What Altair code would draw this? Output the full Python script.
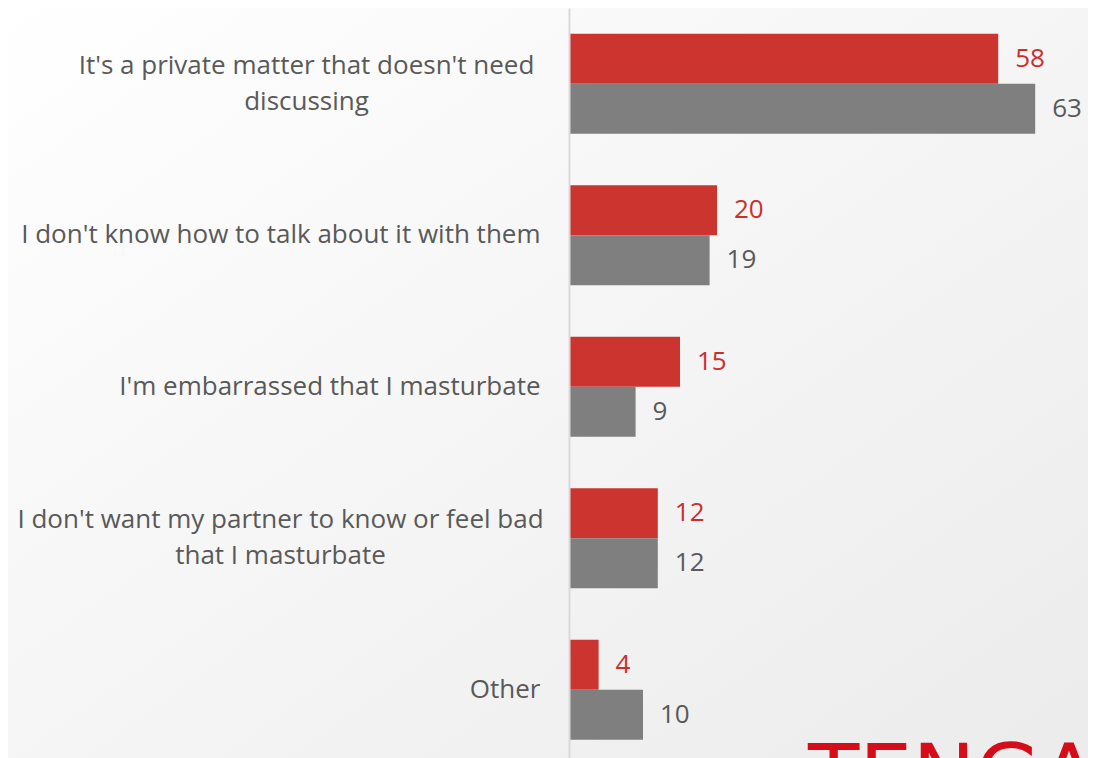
import altair as alt
import pandas as pd

categories = [
    "It's a private matter that doesn't need\ndiscussing",
    "I don't know how to talk about it with them",
    "I'm embarrassed that I masturbate",
    "I don't want my partner to know or feel bad\nthat I masturbate",
    "Other",
]
series_names = ["Series 1", "Series 2"]
red_values = [58, 20, 15, 12, 4]
gray_values = [63, 19, 9, 12, 10]
logo_text = ["TENGA"]

bar_colors = ["#CC3430", "#7F7F7F"]
text_colors = ["#C9302C", "#595959"]

rows = []
for c, r, g in zip(categories, red_values, gray_values):
    rows.append({"category": c, "series": series_names[0], "value": r})
    rows.append({"category": c, "series": series_names[1], "value": g})
df = pd.DataFrame(rows)

W = 511
H = 750
FONT = "Open Sans"

bg = alt.Chart(pd.DataFrame({"a": [0]})).mark_rect(
    color=alt.Gradient(
        gradient="linear",
        x1=0, y1=0, x2=1, y2=1,
        stops=[alt.GradientStop(color="#ffffff", offset=0),
               alt.GradientStop(color="#ebebeb", offset=1)],
    )
).encode(
    x=alt.value(-561), x2=alt.value(W + 20),
    y=alt.value(-8), y2=alt.value(H + 20),
)

logo = alt.Chart(pd.DataFrame({"t": logo_text})).mark_text(
    align="left", baseline="top", font="DejaVu Sans",
    fontSize=84, color="#D70C19",
).encode(
    text="t:N",
    x=alt.value(812 - 569 - 4),
    y=alt.value(742 - 8 - 4),
)

multi = "indexof(datum.value, '\\n') >= 0"

y_enc = alt.Y(
    "category:N",
    sort=categories,
    scale=alt.Scale(range=[0, 757.5], paddingInner=0.34, paddingOuter=0.17),
    axis=alt.Axis(
        title=None,
        ticks=False,
        domainColor="#d9d9d9",
        domainWidth=2,
        labelFont=FONT,
        labelFontSize=26,
        labelColor="#595959",
        labelPadding={
            "condition": [
                {"test": f"datum.value == {categories[0]!r}".replace("\n", "\\n"), "value": 263},
                {"test": f"datum.value == {categories[3]!r}".replace("\n", "\\n"), "value": 289},
            ],
            "value": 29,
        },
        labelAlign={"condition": {"test": multi, "value": "center"}, "value": "right"},
        labelLineHeight=36,
        labelLimit=600,
        labelOffset={"condition": {"test": multi, "value": -18}, "value": 0},
        labelExpr="split(datum.label, '\\n')",
        zindex=1,
    ),
)
x_enc = alt.X("value:Q", scale=alt.Scale(domain=[0, W / 7.4], nice=False), axis=None)
yoff = alt.YOffset("series:N", sort=series_names)

bars = alt.Chart(df).mark_bar(height={"band": 1}).encode(
    x=x_enc,
    y=y_enc,
    yOffset=yoff,
    color=alt.Color("series:N", sort=series_names,
                    scale=alt.Scale(domain=series_names, range=bar_colors), legend=None),
)

labels = alt.Chart(df).mark_text(
    align="left", baseline="middle", dx=17, font=FONT, fontSize=26
).encode(
    x=x_enc,
    y=y_enc,
    yOffset=yoff,
    text=alt.Text("value:Q"),
    color=alt.Color("series:N", sort=series_names,
                    scale=alt.Scale(domain=series_names, range=text_colors), legend=None),
)

chart = alt.layer(bg, logo, bars, labels).resolve_scale(color="independent").properties(
    width=W,
    height=H,
    padding={"left": 561, "top": 0, "right": 8, "bottom": 0},
    autosize=alt.AutoSizeParams(type="none"),
    background="#ffffff",
).configure_view(stroke=None)

chart.save("out.html", embed_options={"renderer": "svg", "actions": False})
